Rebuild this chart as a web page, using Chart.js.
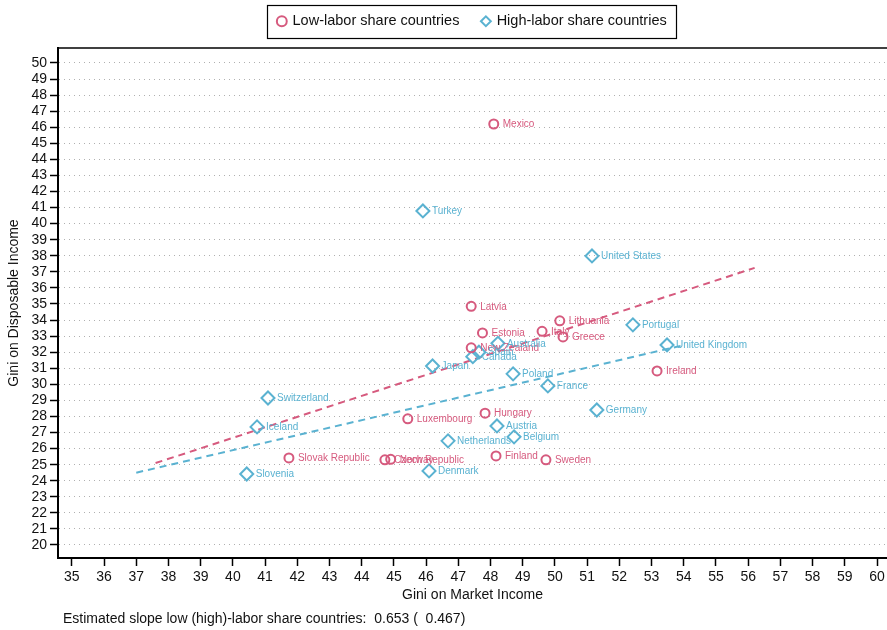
<!DOCTYPE html>
<html>
<head>
<meta charset="utf-8">
<script src="https://cdn.jsdelivr.net/npm/chart.js@4.4.1/dist/chart.umd.min.js"></script>
<style>
  html, body { margin: 0; padding: 0; background: #fff; }
  #wrap { width: 887px; height: 630px; }
</style>
</head>
<body>
<div id="wrap"><canvas id="chart" width="887" height="630"></canvas></div>
<script>
// Low-labor share countries: Gini on market income (x) vs disposable income (y)
const lowNames = ['Mexico', 'Latvia', 'Lithuania', 'Italy', 'Estonia', 'Greece', 'New Zealand',
  'Ireland', 'Hungary', 'Luxembourg', 'Slovak Republic', 'Czech Republic', 'Norway', 'Finland', 'Sweden'];
const lowX = [48.1, 47.4, 50.15, 49.6, 47.75, 50.25, 47.4, 53.17, 47.83, 45.43, 41.74, 44.72, 44.9, 48.17, 49.72];
const lowY = [46.2, 34.85, 33.95, 33.3, 33.2, 32.95, 32.27, 30.83, 28.2, 27.85, 25.42, 25.3, 25.33, 25.54, 25.3];

// High-labor share countries
const highNames = ['Turkey', 'United States', 'Portugal', 'United Kingdom', 'Australia', 'Spain', 'Canada',
  'Japan', 'Poland', 'France', 'Switzerland', 'Germany', 'Iceland', 'Austria', 'Belgium',
  'Netherlands', 'Denmark', 'Slovenia'];
const highX = [45.9, 51.15, 52.42, 53.48, 48.23, 47.64, 47.45, 46.2, 48.7, 49.78, 41.09, 51.3,
  40.75, 48.2, 48.73, 46.68, 46.09, 40.43];
const highY = [40.79, 37.99, 33.7, 32.45, 32.55, 32.0, 31.72, 31.14, 30.65, 29.9, 29.15, 28.4,
  27.35, 27.41, 26.73, 26.48, 24.61, 24.42];

// Fitted lines: start point, end x and estimated slope for each group
const slopes = [0.653, 0.467];
const fitStartX = [37.6, 37.0];
const fitStartY = [25.1, 24.5];
const fitEndX = [56.2, 53.9];

// Axis ticks
const xTicks = [35, 36, 37, 38, 39, 40, 41, 42, 43, 44, 45, 46, 47, 48, 49, 50, 51, 52, 53, 54, 55, 56, 57, 58, 59, 60];
const yTicks = [20, 21, 22, 23, 24, 25, 26, 27, 28, 29, 30, 31, 32, 33, 34, 35, 36, 37, 38, 39, 40,
  41, 42, 43, 44, 45, 46, 47, 48, 49, 50];

const PINK = '#d65a7e';
const BLUE = '#5ab2d1';
const FONT = "'Liberation Sans', Arial, sans-serif";

const toPoints = (xs, ys) => xs.map((x, i) => ({ x: x, y: ys[i] }));
const fitLine = k => [
  { x: fitStartX[k], y: fitStartY[k] },
  { x: fitEndX[k], y: fitStartY[k] + slopes[k] * (fitEndX[k] - fitStartX[k]) }
];

// Legend block ends where the plot frame starts
const legendGap = {
  id: 'legendGap',
  beforeInit(chart) {
    const fit = chart.legend.fit;
    chart.legend.fit = function () {
      fit.call(this);
      this.height = 57;
    };
  }
};

// Country names beside each marker
const pointLabels = {
  id: 'pointLabels',
  afterDatasetsDraw(chart) {
    const ctx = chart.ctx;
    const sets = [[0, lowNames, PINK], [1, highNames, BLUE]];
    ctx.save();
    ctx.font = '10px ' + FONT;
    ctx.textBaseline = 'middle';
    ctx.textAlign = 'left';
    sets.forEach(([idx, names, color]) => {
      const meta = chart.getDatasetMeta(idx);
      ctx.fillStyle = color;
      meta.data.forEach((el, i) => {
        ctx.fillText(names[i], el.x + 9, el.y + 0.5);
      });
    });
    ctx.restore();
  }
};

// Plot frame top edge, legend frame and footnote
const decorations = {
  id: 'decorations',
  afterDraw(chart) {
    const ctx = chart.ctx;
    const a = chart.chartArea;
    ctx.save();
    ctx.strokeStyle = '#000';
    ctx.lineWidth = 1.5;
    ctx.beginPath();
    ctx.moveTo(a.left, a.top);
    ctx.lineTo(a.right, a.top);
    ctx.stroke();

    const lg = chart.legend;
    if (lg && lg.legendHitBoxes && lg.legendHitBoxes.length) {
      const hb = lg.legendHitBoxes;
      const first = hb[0], last = hb[hb.length - 1];
      const left = first.left - 11;
      const right = last.left + last.width + 10;
      ctx.lineWidth = 1.2;
      ctx.strokeRect(Math.round(left) + 0.5, 5.5, Math.round(right - left), 33);
    }

    ctx.fillStyle = '#111';
    ctx.font = '14px ' + FONT;
    ctx.textBaseline = 'middle';
    ctx.textAlign = 'left';
    ctx.fillText('Estimated slope low (high)-labor share countries:  ' + slopes[0].toFixed(3) +
      ' (  ' + slopes[1].toFixed(3) + ')', 63, 619);
    ctx.restore();
  }
};

new Chart(document.getElementById('chart'), {
  type: 'scatter',
  data: {
    datasets: [
      {
        label: 'Low-labor share countries',
        data: toPoints(lowX, lowY),
        pointStyle: 'circle',
        radius: 4.5,
        borderWidth: 2,
        borderColor: PINK,
        backgroundColor: 'rgba(255,255,255,0)'
      },
      {
        label: 'High-labor share countries',
        data: toPoints(highX, highY),
        pointStyle: 'rectRot',
        radius: 6.5,
        borderWidth: 2,
        borderColor: BLUE,
        backgroundColor: 'rgba(255,255,255,0)'
      },
      {
        type: 'line',
        label: 'fit-low',
        data: fitLine(0),
        borderColor: PINK,
        borderWidth: 2,
        borderDash: [7, 5],
        pointRadius: 0,
        fill: false
      },
      {
        type: 'line',
        label: 'fit-high',
        data: fitLine(1),
        borderColor: BLUE,
        borderWidth: 2,
        borderDash: [7, 5],
        pointRadius: 0,
        fill: false
      }
    ]
  },
  options: {
    responsive: false,
    animation: false,
    devicePixelRatio: 1,
    layout: { autoPadding: false, padding: { top: -9, left: 0, right: 0, bottom: 22 } },
    plugins: {
      tooltip: { enabled: false },
      legend: {
        position: 'top',
        fullSize: false,
        labels: {
          filter: item => item.datasetIndex < 2,
          usePointStyle: true,
          boxWidth: 7,
          boxHeight: 7,
          padding: 23,
          color: '#111',
          font: { family: FONT, size: 14.5 }
        }
      }
    },
    scales: {
      x: {
        type: 'linear',
        min: 34.57,
        max: 60.31,
        afterBuildTicks: s => { s.ticks = xTicks.map(v => ({ value: v })); },
        afterFit: s => { s.height = 50; s.paddingLeft = 0; s.paddingRight = 0; },
        ticks: { autoSkip: false, maxRotation: 0, color: '#111', padding: 3, font: { family: FONT, size: 14 } },
        grid: { drawOnChartArea: false, drawTicks: true, tickLength: 8, tickColor: '#000', tickWidth: 1.5 },
        border: { color: '#000', width: 2 },
        title: {
          display: true, text: 'Gini on Market Income', color: '#111',
          font: { family: FONT, size: 14 }, padding: { top: 0, bottom: 4 }
        }
      },
      y: {
        type: 'linear',
        min: 19.19,
        max: 50.93,
        afterBuildTicks: s => { s.ticks = yTicks.map(v => ({ value: v })); },
        afterFit: s => { s.width = 58; s.paddingTop = 0; s.paddingBottom = 0; },
        ticks: { autoSkip: false, color: '#111', padding: 3, font: { family: FONT, size: 14 } },
        grid: {
          color: '#b0b0b0', lineWidth: 1, drawTicks: true, tickLength: 8,
          tickColor: '#000', tickWidth: 1.5, tickBorderDash: []
        },
        border: { color: '#000', width: 2, dash: [1, 4] },
        title: {
          display: true, text: 'Gini on Disposable Income', color: '#111',
          font: { family: FONT, size: 14 }, padding: { top: 6, bottom: 0 }
        }
      }
    }
  },
  plugins: [legendGap, pointLabels, decorations]
});
</script>
</body>
</html>
